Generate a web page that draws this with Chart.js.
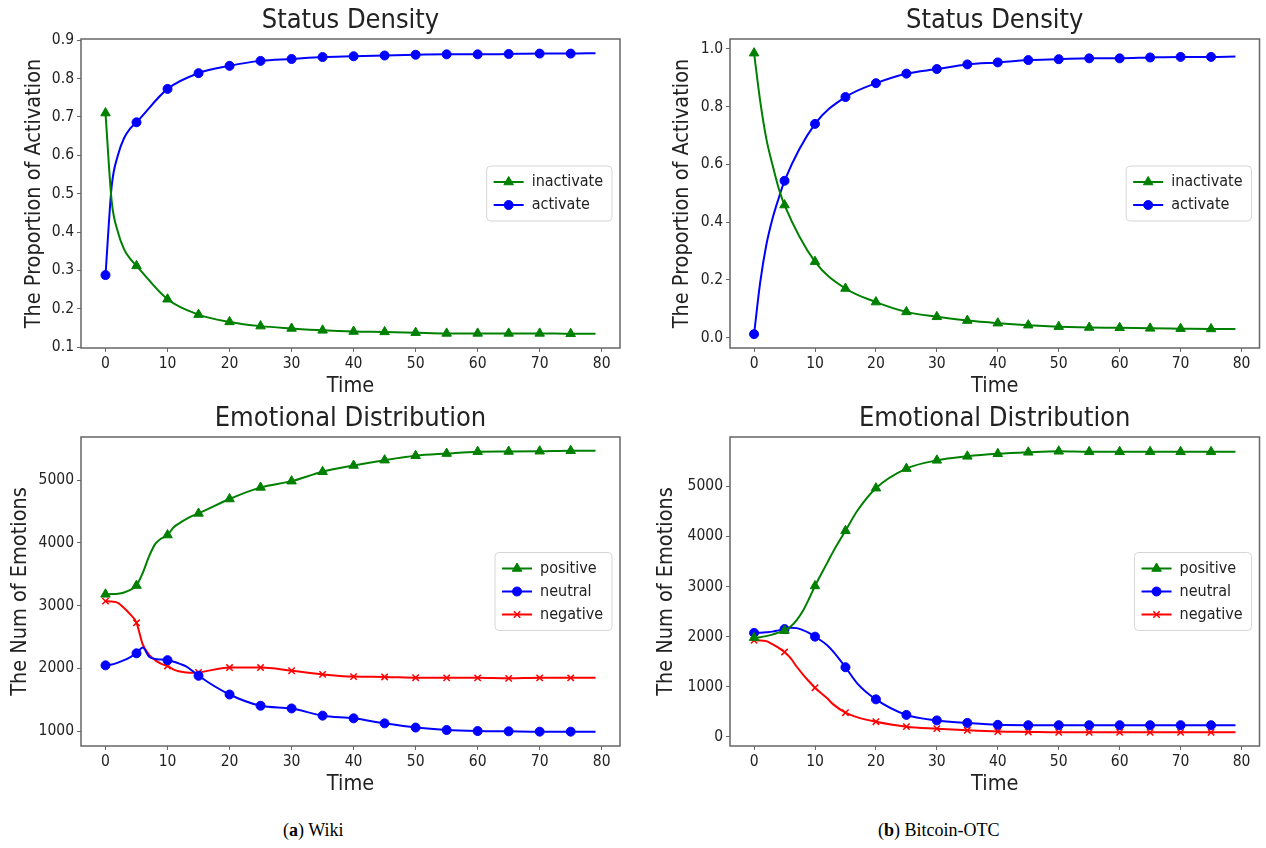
<!DOCTYPE html>
<html><head><meta charset="utf-8">
<script src="https://cdn.jsdelivr.net/npm/chart.js@4.4.1/dist/chart.umd.min.js"></script>
<style>
html,body{margin:0;padding:0;background:#fff;}
body{width:1266px;height:848px;position:relative;overflow:hidden;}
canvas{position:absolute;}
.cap{position:absolute;font-family:"Liberation Serif","Times New Roman",serif;font-size:18px;color:#000;white-space:nowrap;}
</style></head><body>
<canvas id="c1" width="633" height="400" style="left:0;top:0"></canvas>
<canvas id="c2" width="633" height="400" style="left:633px;top:0"></canvas>
<canvas id="c3" width="633" height="400" style="left:0;top:400px"></canvas>
<canvas id="c4" width="633" height="400" style="left:633px;top:400px"></canvas>
<div class="cap" style="left:283px;top:820px">(<b>a</b>) Wiki</div>
<div class="cap" style="left:878px;top:820px">(<b>b</b>) Bitcoin-OTC</div>
<script>
// ---------- data ----------
const markTimes = [0,5,10,15,20,25,30,35,40,45,50,55,60,65,70,75];
const xTicks = [0,10,20,30,40,50,60,70,80];

// (a) Wiki - Status Density
const wikiStatusTime = [0,1,2,3,4,5,10,15,20,25,30,35,40,45,50,55,60,65,70,75,79];
const wikiInactivate = [0.710,0.480,0.400,0.355,0.330,0.312,0.225,0.185,0.166,0.155,0.149,0.144,0.141,0.140,0.138,0.136,0.136,0.136,0.136,0.135,0.135];
const wikiActivate   = [0.288,0.520,0.600,0.645,0.670,0.686,0.773,0.814,0.833,0.846,0.851,0.856,0.858,0.860,0.862,0.863,0.863,0.864,0.865,0.865,0.866];
const wikiStatusTicks = [0.1,0.2,0.3,0.4,0.5,0.6,0.7,0.8,0.9];

// (b) Bitcoin-OTC - Status Density
const btcStatusTime = [0,1,2,3,4,5,10,15,20,25,30,35,40,45,50,55,60,65,70,75,79];
const btcInactivate = [0.985,0.820,0.690,0.600,0.520,0.459,0.263,0.170,0.123,0.089,0.072,0.059,0.050,0.043,0.038,0.035,0.034,0.032,0.031,0.030,0.030];
const btcActivate   = [0.012,0.190,0.320,0.410,0.480,0.543,0.740,0.833,0.881,0.914,0.930,0.946,0.953,0.961,0.964,0.967,0.967,0.970,0.972,0.972,0.973];
const btcStatusTicks = [0.0,0.2,0.4,0.6,0.8,1.0];

// (a) Wiki - Emotional Distribution
const wikiEmoTime = [0,1,2,3,4,5,6,7,8,9,10,11,12,13,14,15,20,25,30,35,40,45,50,55,60,65,70,75,79];
const wikiPositive = [3180,3185,3190,3210,3250,3320,3520,3780,3980,4070,4125,4250,4320,4380,4430,4470,4700,4885,4985,5135,5235,5320,5390,5425,5455,5458,5462,5470,5470];
const wikiNeutral  = [2047,2060,2090,2130,2180,2239,2330,2190,2150,2140,2130,2105,2070,2030,1960,1881,1582,1403,1360,1245,1202,1122,1055,1016,1000,995,990,990,990];
const wikiNegative = [3072,3065,3045,2960,2860,2726,2380,2220,2130,2070,2038,1980,1950,1935,1930,1935,2012,2012,1961,1903,1868,1862,1850,1848,1848,1840,1848,1848,1848];
const wikiEmoTicks = [1000,2000,3000,4000,5000];

// (b) Bitcoin-OTC - Emotional Distribution
const btcEmoTime = [0,1,2,3,4,5,6,7,8,9,10,12,13,15,17,20,25,30,35,40,45,50,55,60,65,70,75,79];
const btcPositive = [1980,1990,2010,2040,2080,2120,2200,2330,2510,2750,3010,3470,3700,4110,4520,4960,5350,5515,5595,5645,5675,5695,5685,5685,5685,5685,5685,5685];
const btcNeutral  = [2075,2080,2088,2100,2125,2150,2175,2170,2130,2075,2000,1830,1700,1390,1060,750,440,330,280,242,235,235,235,235,235,235,235,235];
const btcNegative = [1926,1925,1910,1850,1780,1693,1570,1400,1250,1110,982,770,650,484,390,305,206,166,133,108,100,92,92,92,92,92,92,92];
const btcEmoTicks = [0,1000,2000,3000,4000,5000];

// ---------- style ----------
const GREEN = '#008000', BLUE = '#0000ff', RED = '#ff0000';
const FONT = '"DejaVu Sans Condensed", "DejaVu Sans", sans-serif';
const TXT = '#222222', FRAME = '#666666';
const TICK_FS = 15.5, AXIS_FS = 21.5, TITLE_FS = 27, LEG_FS = 16, LEG_PAD = 7, LEG_BOX = 30;
Chart.defaults.font.family = FONT;
Chart.defaults.color = TXT;

function markerRadius(style){ return style === 'triangle' ? 5.5 : 4.5; }

function series(label, xs, ys, color, style){
  return {
    label, data: xs.map((x,i)=>({x:x, y:ys[i]})),
    borderColor: color, backgroundColor: color, borderWidth: 2,
    cubicInterpolationMode: 'monotone', fill: false,
    pointStyle: style,
    pointRadius: ctx => markTimes.includes(xs[ctx.dataIndex]) ? markerRadius(style) : 0,
    pointHoverRadius: 0,
    pointBackgroundColor: color, pointBorderColor: color,
    pointBorderWidth: style === 'crossRot' ? 1.5 : 1
  };
}

function drawMarker(ctx, style, color, x, y){
  const r = markerRadius(style);
  ctx.save();
  ctx.fillStyle = color; ctx.strokeStyle = color; ctx.lineWidth = style==='crossRot'?1.5:1;
  ctx.beginPath();
  if (style === 'circle'){ ctx.arc(x, y, r, 0, Math.PI*2); ctx.fill(); ctx.stroke(); }
  else if (style === 'triangle'){
    let a = 0;
    ctx.moveTo(x + Math.sin(a)*r, y - Math.cos(a)*r); a += 2*Math.PI/3;
    ctx.lineTo(x + Math.sin(a)*r, y - Math.cos(a)*r); a += 2*Math.PI/3;
    ctx.lineTo(x + Math.sin(a)*r, y - Math.cos(a)*r); ctx.closePath(); ctx.fill(); ctx.stroke();
  } else {
    const d = r*Math.SQRT1_2;
    ctx.moveTo(x-d,y-d); ctx.lineTo(x+d,y+d); ctx.moveTo(x+d,y-d); ctx.lineTo(x-d,y+d); ctx.stroke();
  }
  ctx.restore();
}

const framePlugin = {
  id: 'mplFrame',
  beforeDraw(chart){
    const ctx = chart.ctx, ca = chart.chartArea, lg = chart.legend;
    const dss = chart.data.datasets;
    ctx.save();
    ctx.font = LEG_FS + 'px ' + FONT;
    let tw = 0; dss.forEach(d => { tw = Math.max(tw, ctx.measureText(d.label).width); });
    ctx.restore();
    const w = LEG_PAD + LEG_BOX + LEG_FS/2 + tw + LEG_PAD + 2;
    const h = LEG_PAD + dss.length*(LEG_FS + LEG_PAD) + 2;
    lg.left = ca.right - 8 - w; lg.right = lg.left + w;
    lg.top = (ca.top + ca.bottom)/2 - h/2 + 1; lg.bottom = lg.top + h + 20;
    chart._legBox = {x: lg.left, y: lg.top - 1, w: w, h: h};
    const b = chart._legBox, rr = 4;
    ctx.save();
    ctx.beginPath();
    ctx.moveTo(b.x+rr, b.y); ctx.lineTo(b.x+b.w-rr, b.y); ctx.arcTo(b.x+b.w, b.y, b.x+b.w, b.y+rr, rr);
    ctx.lineTo(b.x+b.w, b.y+b.h-rr); ctx.arcTo(b.x+b.w, b.y+b.h, b.x+b.w-rr, b.y+b.h, rr);
    ctx.lineTo(b.x+rr, b.y+b.h); ctx.arcTo(b.x, b.y+b.h, b.x, b.y+b.h-rr, rr);
    ctx.lineTo(b.x, b.y+rr); ctx.arcTo(b.x, b.y, b.x+rr, b.y, rr); ctx.closePath();
    ctx.fillStyle = '#ffffff'; ctx.fill();
    ctx.strokeStyle = '#d6d6d6'; ctx.lineWidth = 1; ctx.stroke();
    ctx.restore();
  },
  afterDraw(chart){
    const ctx = chart.ctx, ca = chart.chartArea, lg = chart.legend;
    ctx.save();
    ctx.strokeStyle = FRAME; ctx.lineWidth = 1.5;
    ctx.strokeRect(ca.left, ca.top, ca.right - ca.left, ca.bottom - ca.top);
    ctx.restore();
    chart.data.datasets.forEach((d, i) => {
      const cx = lg.left + LEG_PAD + LEG_BOX/2;
      const cy = lg.top + LEG_PAD + i*(LEG_FS + LEG_PAD) + LEG_FS/2;
      drawMarker(ctx, d.pointStyle, d.borderColor, cx, cy);
    });
  }
};

function makeChart(id, o){
  new Chart(document.getElementById(id), {
    type: 'line',
    data: { datasets: o.datasets },
    plugins: [framePlugin],
    options: {
      responsive: false, animation: false, events: [],
      layout: { padding: { left: 0, right: o.padRight, top: 0, bottom: 0 } },
      plugins: {
        tooltip: { enabled: false },
        title: { display: true, text: o.title, fullSize: false, color: TXT,
                 font: { size: TITLE_FS, weight: 'normal', family: FONT },
                 padding: { top: o.titlePadTop, bottom: o.titlePadBottom } },
        legend: {
          display: true, position: 'chartArea', align: 'start',
          labels: {
            font: { size: LEG_FS, family: FONT }, color: TXT,
            boxWidth: LEG_BOX, boxHeight: 2, padding: LEG_PAD,
            generateLabels: chart => chart.data.datasets.map((ds, i) => ({
              text: ds.label, fillStyle: ds.borderColor, strokeStyle: ds.borderColor,
              lineWidth: 0, hidden: false, datasetIndex: i, fontColor: TXT
            }))
          }
        }
      },
      scales: {
        x: {
          type: 'linear', min: -3.95, max: 82.95,
          afterBuildTicks: s => { s.ticks = xTicks.map(v => ({value: v})); },
          afterFit: s => { s.height = o.xHeight; },
          ticks: { font: { size: TICK_FS }, color: TXT, padding: 3, maxRotation: 0, autoSkip: false },
          grid: { display: true, drawOnChartArea: false, drawTicks: true, tickLength: 4, color: FRAME, lineWidth: 1 },
          border: { display: false },
          title: { display: true, text: 'Time', color: TXT, font: { size: AXIS_FS }, padding: { top: 0, bottom: o.xTitlePad } }
        },
        y: {
          type: 'linear', min: o.yMin, max: o.yMax,
          afterBuildTicks: s => { s.ticks = o.yTicks.map(v => ({value: v})); },
          afterFit: s => { s.width = o.yWidth; },
          ticks: { font: { size: TICK_FS }, color: TXT, padding: 3, autoSkip: false,
                   callback: v => o.decimals ? Number(v).toFixed(o.decimals) : String(v) },
          grid: { display: true, drawOnChartArea: false, drawTicks: true, tickLength: 4, color: FRAME, lineWidth: 1 },
          border: { display: false },
          title: { display: true, text: o.yTitle, color: TXT, font: { size: AXIS_FS }, padding: { top: o.yTitlePad, bottom: 0 } }
        }
      }
    }
  });
}

makeChart('c1', {
  title: 'Status Density', yTitle: 'The Proportion of Activation',
  datasets: [series('inactivate', wikiStatusTime, wikiInactivate, GREEN, 'triangle'),
             series('activate', wikiStatusTime, wikiActivate, BLUE, 'circle')],
  yMin: 0.098, yMax: 0.903, yTicks: wikiStatusTicks, decimals: 1,
  padRight: 13, yWidth: 81, xHeight: 52, titlePadTop: 5, titlePadBottom: 1.6,
  xTitlePad: 1, yTitlePad: 22
});
makeChart('c2', {
  title: 'Status Density', yTitle: 'The Proportion of Activation',
  datasets: [series('inactivate', btcStatusTime, btcInactivate, GREEN, 'triangle'),
             series('activate', btcStatusTime, btcActivate, BLUE, 'circle')],
  yMin: -0.036, yMax: 1.034, yTicks: btcStatusTicks, decimals: 1,
  padRight: 3, yWidth: 97, xHeight: 52, titlePadTop: 5, titlePadBottom: 1.6,
  xTitlePad: 1, yTitlePad: 37
});
makeChart('c3', {
  title: 'Emotional Distribution', yTitle: 'The Num of Emotions',
  datasets: [series('positive', wikiEmoTime, wikiPositive, GREEN, 'triangle'),
             series('neutral', wikiEmoTime, wikiNeutral, BLUE, 'circle'),
             series('negative', wikiEmoTime, wikiNegative, RED, 'crossRot')],
  yMin: 761, yMax: 5689, yTicks: wikiEmoTicks, decimals: 0,
  padRight: 13, yWidth: 81, xHeight: 54, titlePadTop: 3, titlePadBottom: 1.6,
  xTitlePad: 3, yTitlePad: 8
});
makeChart('c4', {
  title: 'Emotional Distribution', yTitle: 'The Num of Emotions',
  datasets: [series('positive', btcEmoTime, btcPositive, GREEN, 'triangle'),
             series('neutral', btcEmoTime, btcNeutral, BLUE, 'circle'),
             series('negative', btcEmoTime, btcNegative, RED, 'crossRot')],
  yMin: -180, yMax: 5980, yTicks: btcEmoTicks, decimals: 0,
  padRight: 3, yWidth: 97, xHeight: 54, titlePadTop: 3, titlePadBottom: 1.6,
  xTitlePad: 3, yTitlePad: 21
});
</script>
</body></html>
